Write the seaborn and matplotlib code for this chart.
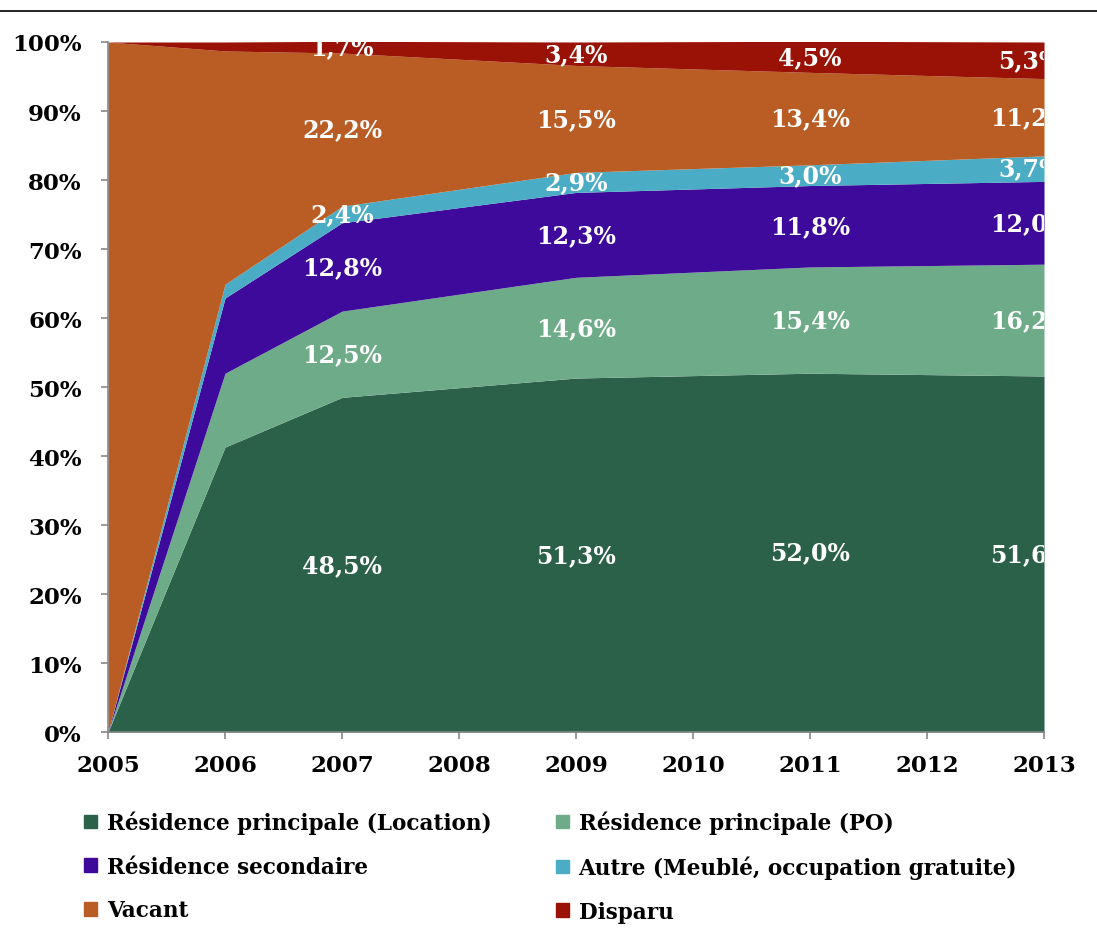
import numpy as np
import seaborn as sns
import matplotlib.pyplot as plt
from matplotlib.patches import Patch
from matplotlib.ticker import PercentFormatter

# data (percent of dwellings)
years = [2005, 2006, 2007, 2009, 2011, 2013]
location = [0, 41.3, 48.5, 51.3, 52.0, 51.6]
po = [0, 10.7, 12.5, 14.6, 15.4, 16.2]
secondaire = [0, 10.9, 12.8, 12.3, 11.8, 12.0]
autre = [0, 2.0, 2.4, 2.9, 3.0, 3.7]
vacant = [100, 33.8, 22.2, 15.5, 13.4, 11.2]
disparu = [0, 1.3, 1.7, 3.4, 4.5, 5.3]

names = ["Résidence principale (Location)", "Résidence principale (PO)",
         "Résidence secondaire", "Autre (Meublé, occupation gratuite)",
         "Vacant", "Disparu"]
colors = ["#2b6049", "#6eab89", "#3e0a9b", "#4aadc5", "#b95d25", "#9a1205"]
label_years = [2007, 2009, 2011, 2013]

sns.set_style("white")
plt.rcParams['font.family'] = ['DejaVu Serif']
plt.rcParams['text.color'] = 'black'

fig = plt.figure(figsize=(10.97, 9.45), dpi=100)
ax = fig.add_axes([0.0985, 0.2243, 0.8532, 0.7302])

series = [location, po, secondaire, autre, vacant, disparu]
ax.stackplot(years, *series, colors=colors, linewidth=0)

# value labels in the middle of each band
cum = np.cumsum(np.array(series), axis=0)
for yr in label_years:
    i = years.index(yr)
    xpos = yr - 0.12 if yr == 2013 else yr
    for k in range(len(series)):
        v = series[k][i]
        mid = cum[k][i] - v / 2
        ax.text(xpos, mid, f"{v:.1f}%".replace(".", ","), color="white",
                fontsize=17, fontweight="bold", ha="center", va="center",
                clip_on=True)

ax.set_xlim(2005, 2013)
ax.set_ylim(0, 100)
ax.set_xticks(range(2005, 2014))
ax.set_yticks(range(0, 101, 10))
ax.yaxis.set_major_formatter(PercentFormatter(decimals=0))
ax.tick_params(axis="both", labelsize=16.5, length=5, width=1.2, color="#888888",
               labelcolor="black", direction="out", bottom=True, left=True)
ax.tick_params(axis="y", pad=14)
ax.tick_params(axis="x", pad=11)
for lab in ax.get_xticklabels() + ax.get_yticklabels():
    lab.set_fontweight("bold")
for side in ["top", "right"]:
    ax.spines[side].set_visible(False)
for side in ["left", "bottom"]:
    ax.spines[side].set_color("#888888")
    ax.spines[side].set_linewidth(1.2)

# legend, filled column-wise so rows read as in the original
order = [0, 2, 4, 1, 3, 5]
handles = [Patch(color=colors[i], label=names[i]) for i in order]
fig.legend(handles=handles, ncol=2, loc="upper left",
           bbox_to_anchor=(0.063, 0.157), frameon=False,
           prop={"size": 15.5, "weight": "bold"}, labelcolor="black",
           handlelength=0.6, handleheight=0.6, handletextpad=0.45,
           columnspacing=3.0, labelspacing=1.0, borderpad=0.2)

fig.add_artist(plt.Line2D([0, 1], [1 - 12 / 945, 1 - 12 / 945],
                          color="black", linewidth=1.2))

fig.savefig("out.png", dpi=100)
